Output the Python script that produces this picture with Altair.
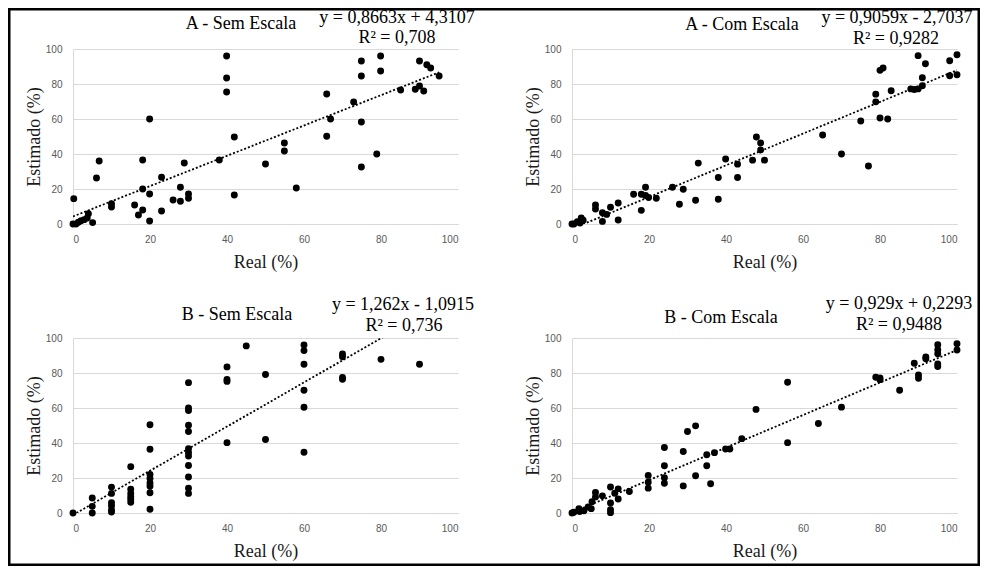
import altair as alt
import pandas as pd

# ---------------- data ----------------
# A - Sem Escala
a_sem_real = [0, 0.2, 0.8, 1.4, 2.1, 2.9, 3.7, 4, 5.1, 6.1, 6.8, 10, 10, 16, 17, 18.1, 18.1, 18.1,
              19.9, 19.9, 19.9, 23, 23, 26, 27.9, 27.9, 28.9, 30, 30, 38, 39.9, 39.9, 39.9, 41.9,
              41.9, 50, 54.9, 54.9, 58, 65.9, 65.9, 66.9, 72.9, 74.9, 74.9, 74.9, 74.9, 78.9,
              79.9, 79.9, 85.1, 88.9, 90, 90, 91.1, 91.9, 92.9, 95.1]
a_sem_est = [0, 14.5, 0, 1, 1.9, 2.5, 3.4, 5.9, 0.8, 26.3, 36, 11.6, 9.7, 10.9, 5.1, 36.6, 20, 8,
             60, 17.1, 1.7, 26.7, 7.4, 13.7, 21, 13, 34.9, 17.1, 14.7, 36.6, 96, 83.4, 75.4, 49.7,
             16.6, 34.3, 46.3, 41.7, 20.6, 74.3, 50.1, 60, 69.7, 93.1, 84.6, 58.3, 32.6, 40,
             96, 87.4, 76.6, 77, 93.1, 78.9, 76, 91, 89.1, 84.6]

# A - Com Escala
a_com_real = [0, 0.5, 1.4, 2.1, 2.4, 2.9, 6.1, 6.1, 7.9, 7.9, 9, 10, 12, 12, 16, 18, 18, 19.1,
              19.1, 19.9, 21.9, 26.1, 27.9, 28.9, 32.1, 32.8, 38, 38, 39.9, 43, 43, 46.9, 47.9,
              49, 49, 50, 65.1, 70, 75, 77, 78.9, 78.9, 80, 80.8, 80, 82, 82.9, 88, 88.9, 89.9,
              91, 91, 89.9, 91.8, 98.1, 98.1, 100, 100]
a_com_est = [0, 0, 1.3, 0.6, 3.4, 2.1, 10.9, 8.6, 6.5, 1.5, 5.5, 9.6, 12, 2.3, 17, 17, 7.8, 21,
             16.3, 15.1, 14.7, 21, 11.3, 19.9, 13.6, 34.8, 26.6, 14.1, 37.1, 34.2, 26.6, 36.5,
             49.7, 46.3, 42.3, 36.5, 50.9, 40, 58.9, 33.1, 69.8, 74.2, 87.8, 89.1, 60.6, 60,
             76.1, 77.2, 76.9, 77.2, 79, 83.6, 96.2, 91.6, 93.3, 84.7, 96.7, 85.3]

# B - Sem Escala
b_sem_real = [0, 5, 5, 5, 10, 10, 10, 10, 10, 10, 15, 15, 15, 15, 15, 15,
              20, 20, 20, 20, 20, 20, 20, 20,
              30, 30, 30, 30, 30, 30, 30, 30, 30, 30, 30, 30,
              40, 40, 40, 40, 45, 50, 50, 60, 60, 60, 60, 60, 60, 70, 70, 70, 70, 80, 90]
b_sem_est = [0, 8.6, 3.8, 0, 14.8, 11.2, 5.9, 4.2, 1.7, 0.6, 26.5, 13.6, 11.2, 9.3, 7.8, 6.1,
             50.4, 36.4, 22, 19.7, 17.2, 15.3, 11.6, 2.1,
             74.5, 60, 58.6, 50.1, 46.6, 36.8, 34.6, 32.6, 27.1, 20.6, 14.2, 11.2,
             83.5, 76.3, 75.2, 40.2, 95.5, 79.1, 42, 96, 92.8, 85, 70.1, 60.4, 34.7,
             90.9, 89.3, 77.5, 76.4, 87.8, 85]

# B - Com Escala
b_com_real = [0, 0.5, 1.8, 2, 3.1, 4.2, 5, 5.2, 6.1, 6.1, 7.9, 10, 10, 10, 10, 11.1, 12, 12,
              14.9, 19.8, 19.8, 19.8, 24, 24, 24, 24, 28.9, 28.9, 30, 32.1, 32.1, 35, 35, 36, 37,
              39.9, 41, 44.1, 47.8, 56, 56, 64, 70, 78.9, 80, 80, 85.1, 88.9, 90, 90, 91.9, 91.9,
              95, 95, 95, 95, 95, 100, 100]
b_com_est = [0, 0.4, 2.5, 0.8, 1.3, 3.4, 2.5, 6.5, 11.7, 9.2, 9.8, 14.9, 5.7, 1.9, 0.2, 11.3,
             13.8, 8, 12.3, 21.5, 17.6, 14.2, 37.4, 27, 20.1, 17, 35.1, 15.5, 46.6, 49.8, 21.3,
             33.3, 27, 16.7, 34.5, 36.6, 36.6, 42.5, 59.2, 74.7, 40.2, 51.1, 60.5, 77.6, 77.2,
             76.2, 70.1, 85.6, 78.9, 77, 89.1, 88.1, 96.2, 93.3, 91, 85.1, 83.7, 96.7, 93.1]

titles = ["A - Sem Escala", "A - Com Escala", "B - Sem Escala", "B - Com Escala"]
equations = ["y = 0,8663x  + 4,3107", "y = 0,9059x  - 2,7037",
             "y = 1,262x - 1,0915", "y = 0,929x + 0,2293"]
r2_labels = ["R² = 0,708", "R² = 0,9282", "R² = 0,736", "R² = 0,9488"]
slopes = [0.8663, 0.9059, 1.262, 0.929]
intercepts = [4.3107, -2.7037, -1.0915, 0.2293]
tick_values = [0, 20, 40, 60, 80, 100]

x_title = "Real (%)"
y_title = "Estimado (%)"

# ---------------- layout (pixels) ----------------
W, H = 385, 175
COL_GAP, ROW_GAP = 114, 112
# text anchors relative to each plot area: (title_x, title_y, eq_x, eq_y, r2_x, r2_y)
text_pos = [
    (168, -20, 324, -26, 324, -6),
    (170, -19, 325, -26, 324, -5),
    (164, -18, 330, -28, 331, -7),
    (149, -15, 327, -29, 327, -8),
]

SERIF = "Liberation Serif"
SANS = "Liberation Sans"
GRID = "#d9d9d9"
LABEL = "#595959"

datasets = [(a_sem_real, a_sem_est), (a_com_real, a_com_est),
            (b_sem_real, b_sem_est), (b_com_real, b_com_est)]


def x_axis():
    return alt.Axis(values=tick_values, title=x_title, labelOverlap=False, grid=False,
                    tickCount=6)


def y_axis():
    return alt.Axis(values=tick_values, title=y_title, labelOverlap=False, grid=True,
                    tickCount=6)


def bar(one, x, x2, y, y2):
    return alt.Chart(one).mark_rect(color="black", strokeWidth=0).encode(
        x=alt.value(x), x2=alt.value(x2), y=alt.value(y), y2=alt.value(y2))


def panel(i):
    xs, ys = datasets[i]
    pts = pd.DataFrame({"real": xs, "est": ys})
    x0, x1 = min(xs), max(xs)
    trend = pd.DataFrame({"real": [x0, x1],
                          "est": [slopes[i] * x0 + intercepts[i], slopes[i] * x1 + intercepts[i]]})
    xscale = alt.Scale(domain=[0, 100], nice=False, zero=False)
    yscale = alt.Scale(domain=[0, 100], nice=False, zero=False)

    base_pts = alt.Chart(pts).mark_circle(size=48, color="black", opacity=1).encode(
        x=alt.X("real:Q", scale=xscale, axis=x_axis()),
        y=alt.Y("est:Q", scale=yscale, axis=y_axis()),
    )
    line = alt.Chart(trend).mark_line(color="black", strokeDash=[2, 2], strokeWidth=1.8,
                                      clip=True).encode(
        x=alt.X("real:Q", scale=xscale, axis=x_axis()),
        y=alt.Y("est:Q", scale=yscale, axis=y_axis()),
    )
    tx, ty, ex, ey, rx, ry = text_pos[i]
    t_df = pd.DataFrame({"t": [titles[i]], "e": [equations[i]], "r": [r2_labels[i]]})
    title_mark = alt.Chart(t_df).mark_text(font=SERIF, fontSize=18, align="center",
                                           baseline="alphabetic", color="black").encode(
        text="t:N", x=alt.value(tx), y=alt.value(ty))
    eq_mark = alt.Chart(t_df).mark_text(font=SERIF, fontSize=18, align="center",
                                        baseline="alphabetic", color="black").encode(
        text="e:N", x=alt.value(ex), y=alt.value(ey))
    r2_mark = alt.Chart(t_df).mark_text(font=SERIF, fontSize=18, align="center",
                                        baseline="alphabetic", color="black").encode(
        text="r:N", x=alt.value(rx), y=alt.value(ry))
    layers = [base_pts, line, title_mark, eq_mark, r2_mark]

    # decorative outer frame (drawn by the top-left and bottom-right panels)
    one = pd.DataFrame({"k": [0]})
    if i == 0:
        layers.append(bar(one, -65, 907, -41, -38.5))   # top edge
        layers.append(bar(one, -65, -62.5, -41, 515))   # left edge
    if i == 3:
        layers.append(bar(one, -564, 408, 225.5, 228))  # bottom edge
        layers.append(bar(one, 405.5, 408, -328, 228))  # right edge

    return alt.layer(*layers).properties(width=W, height=H)


chart = alt.concat(*[panel(i) for i in range(4)], columns=2, spacing=COL_GAP).properties(
    bounds="flush", padding=0, background="white"
).configure_concat(spacing=COL_GAP).configure_view(strokeWidth=0).configure_axis(
    gridColor=GRID, gridWidth=1, domain=True, domainColor=GRID, domainWidth=1,
    ticks=False, tickSize=0,
    labelFont=SANS, labelFontSize=10, labelColor=LABEL,
    titleFont=SERIF, titleFontSize=18, titleFontWeight="normal", titleColor="#1a1a1a",
).configure_axisX(titlePadding=9, labelPadding=10).configure_axisY(
    titlePadding=2, labelPadding=11)

chart.save("out.html", embed_options={"renderer": "svg", "actions": False})
